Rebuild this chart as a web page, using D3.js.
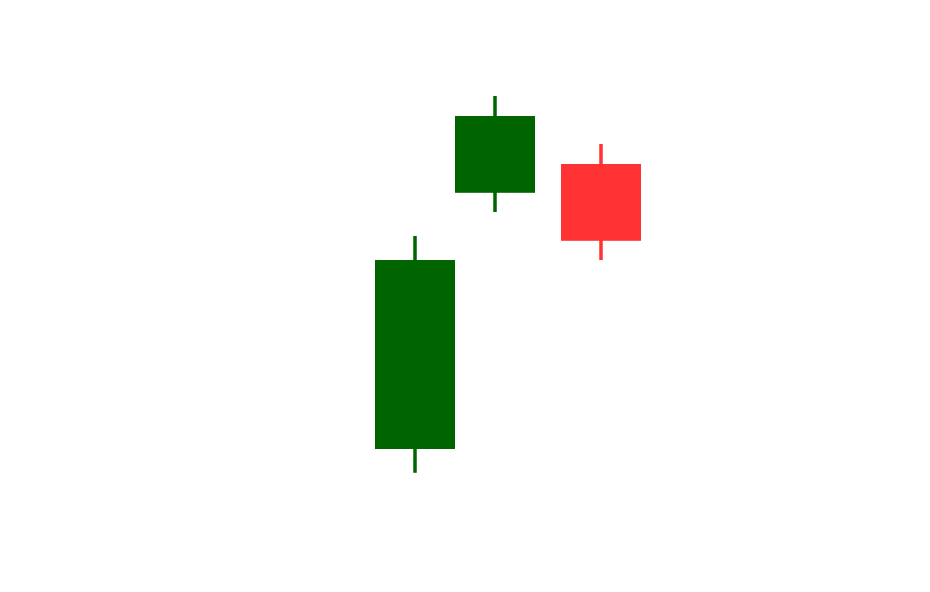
<!DOCTYPE html>
<html>
<head>
<meta charset="utf-8">
<script src="https://cdn.jsdelivr.net/npm/d3@7"></script>
<style>
  html, body { margin: 0; padding: 0; background: #fff; }
</style>
</head>
<body>
<div id="chart"></div>
<script>
// Candle data
var positions = [10, 20, 33.25];
var opens  = [12.75, 76.8, 84];
var highs  = [66, 101, 89];
var lows   = [6.8, 72, 60];
var closes = [60, 96, 64.8];

var svgWidth = 930;
var svgHeight = 592;

var svg = d3.select("#chart").append("svg")
    .attr("width", svgWidth)
    .attr("height", svgHeight);

// Scales
var xScale = d3.scaleLinear()
    .domain([0, 40])
    .range([335, 655]);

var yScale = d3.scaleLinear()
    .domain([0, 100])
    .range([500, 100]);

var candleWidth = xScale(10) - xScale(0);

var dataset = [];
for (var i = 0; i < positions.length; i++) {
    dataset.push({
        x: positions[i],
        open: opens[i],
        high: highs[i],
        low: lows[i],
        close: closes[i]
    });
}

function colour(d) {
    return d.close >= d.open ? "#006400" : "#ff3333";
}

var candles = svg.selectAll(".candle")
    .data(dataset)
    .enter()
    .append("g")
    .attr("class", "candle");

// Wicks
candles.append("line")
    .attr("x1", function(d) { return xScale(d.x); })
    .attr("x2", function(d) { return xScale(d.x); })
    .attr("y1", function(d) { return yScale(d.high); })
    .attr("y2", function(d) { return yScale(d.low); })
    .attr("stroke", colour)
    .attr("stroke-width", 3.5);

// Bodies
candles.append("rect")
    .attr("x", function(d) { return xScale(d.x) - candleWidth / 2; })
    .attr("y", function(d) { return yScale(Math.max(d.open, d.close)); })
    .attr("width", candleWidth)
    .attr("height", function(d) { return Math.abs(yScale(d.open) - yScale(d.close)); })
    .attr("fill", colour);
</script>
</body>
</html>
